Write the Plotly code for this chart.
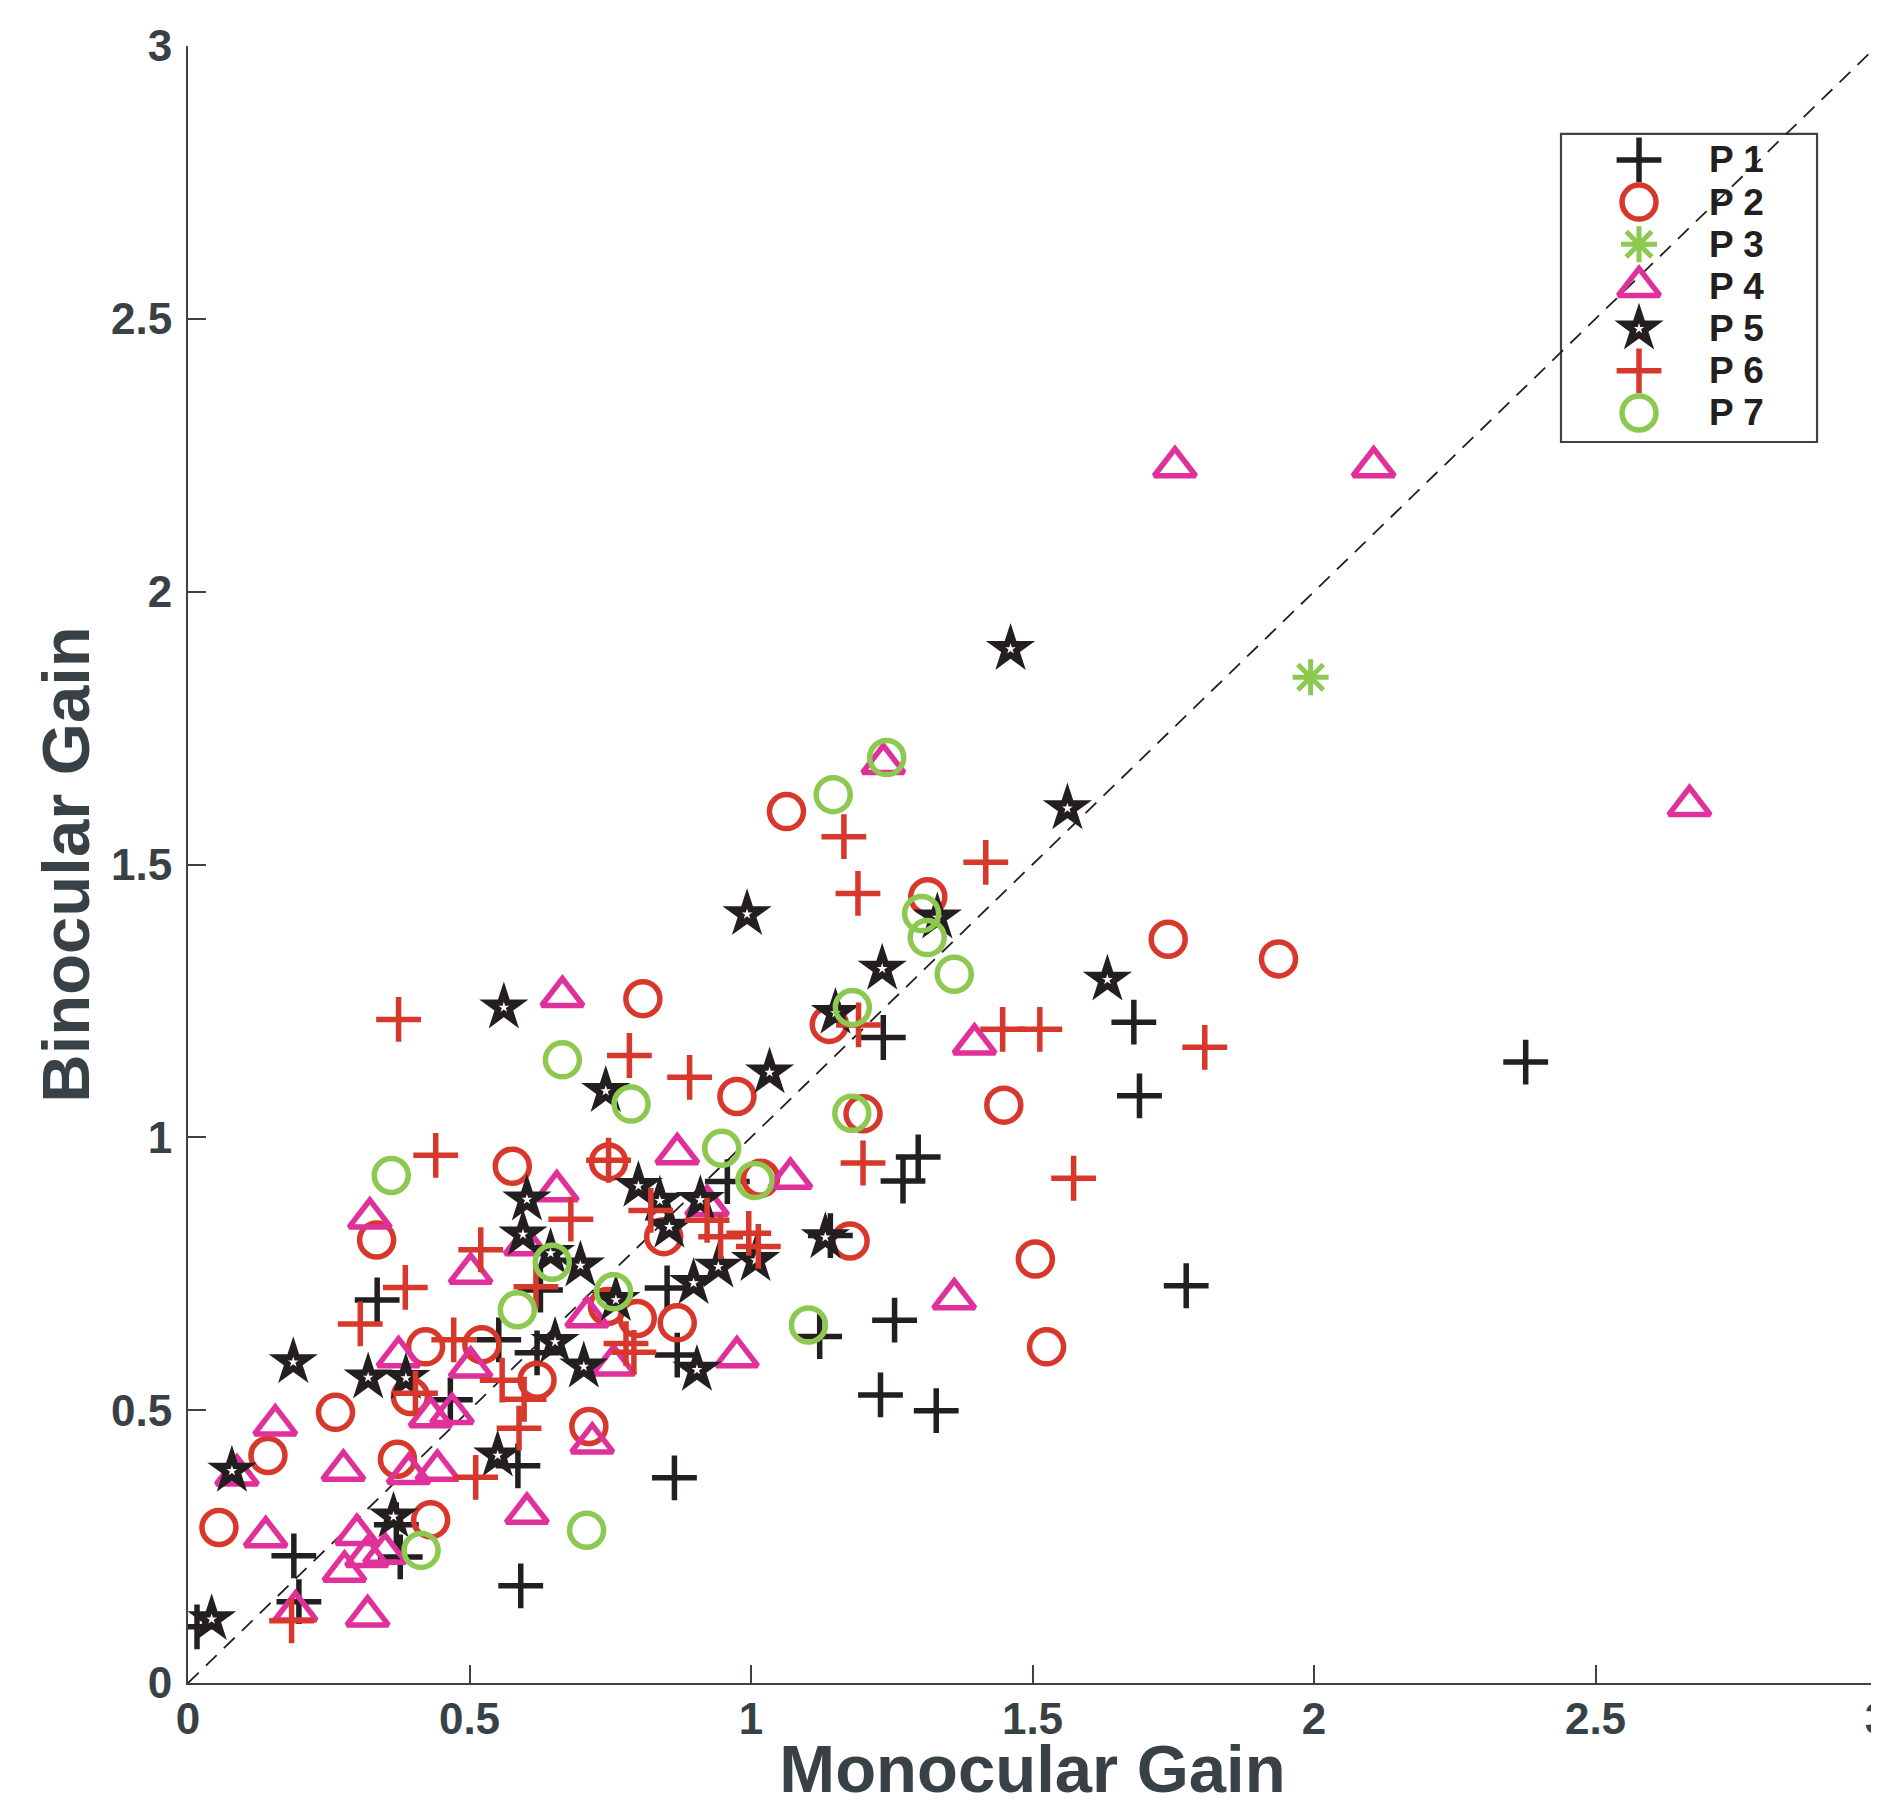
import plotly.graph_objects as go

# ---------------- data ----------------
series_names = ["P 1", "P 2", "P 3", "P 4", "P 5", "P 6", "P 7"]

p1_x = [2.376, 1.773, 1.680, 1.690, 1.297, 1.270, 1.235, 1.141, 1.255, 1.122, 1.230, 1.329,
        0.864, 0.591, 0.958, 0.851, 0.869, 0.626, 0.552, 0.620, 0.466, 0.336, 0.586, 0.188,
        0.197, 0.016, 0.377, 0.370]
p1_y = [1.138, 0.728, 1.211, 1.076, 0.964, 0.920, 1.183, 0.820, 0.665, 0.635, 0.528, 0.499,
        0.376, 0.178, 0.919, 0.724, 0.601, 0.720, 0.629, 0.605, 0.519, 0.702, 0.398, 0.233,
        0.149, 0.103, 0.231, 0.290]

p2_x = [1.063, 1.314, 1.139, 0.975, 1.199, 1.176, 1.741, 1.937, 1.449, 1.505, 1.525, 0.808,
        0.576, 0.747, 1.017, 0.845, 0.798, 0.869, 0.712, 0.620, 0.522, 0.422, 0.335, 0.395,
        0.262, 0.142, 0.055, 0.372, 0.431, 0.745]
p2_y = [1.597, 1.441, 1.207, 1.075, 1.043, 0.810, 1.363, 1.327, 1.059, 0.777, 0.616, 1.254,
        0.947, 0.955, 0.925, 0.818, 0.668, 0.660, 0.470, 0.555, 0.620, 0.616, 0.812, 0.525,
        0.496, 0.417, 0.285, 0.410, 0.299, 0.690]

p3_x = [1.994]
p3_y = [1.843]

p4_x = [1.753, 2.106, 2.667, 1.235, 1.397, 1.361, 1.070, 0.869, 0.922, 0.975, 0.665, 0.655,
        0.600, 0.502, 0.709, 0.756, 0.502, 0.718, 0.602, 0.323, 0.374, 0.155, 0.087, 0.138,
        0.276, 0.392, 0.443, 0.469, 0.431, 0.191, 0.319, 0.278, 0.300, 0.318, 0.350]
p4_y = [2.229, 2.229, 1.608, 1.685, 1.171, 0.704, 0.925, 0.970, 0.875, 0.598, 1.258, 0.902,
        0.803, 0.751, 0.671, 0.583, 0.579, 0.440, 0.311, 0.852, 0.598, 0.473, 0.381, 0.268,
        0.390, 0.384, 0.390, 0.494, 0.488, 0.132, 0.123, 0.205, 0.272, 0.232, 0.238]

p5_x = [1.461, 1.562, 1.633, 0.993, 1.331, 1.233, 1.150, 1.033, 0.561, 0.742, 0.800, 0.602,
        0.595, 0.644, 0.697, 0.838, 0.855, 0.910, 1.132, 0.898, 0.942, 1.008, 0.760, 0.652,
        0.703, 0.904, 0.187, 0.320, 0.387, 0.078, 0.550, 0.365, 0.042]
p5_y = [1.895, 1.603, 1.289, 1.409, 1.403, 1.309, 1.228, 1.119, 1.238, 1.085, 0.911, 0.886,
        0.822, 0.788, 0.765, 0.884, 0.836, 0.885, 0.817, 0.733, 0.763, 0.775, 0.702, 0.625,
        0.580, 0.574, 0.588, 0.560, 0.559, 0.389, 0.417, 0.305, 0.117]

p6_x = [1.165, 1.190, 1.417, 1.447, 1.513, 1.806, 1.573, 1.199, 1.191, 0.374, 0.440, 0.784,
        0.891, 0.747, 0.680, 0.822, 0.922, 0.946, 0.996, 1.013, 0.520, 0.618, 0.386, 0.306,
        0.472, 0.792, 0.778, 0.558, 0.597, 0.404, 0.588, 0.511, 0.184]
p6_y = [1.551, 1.447, 1.504, 1.198, 1.198, 1.165, 0.925, 0.953, 1.206, 1.216, 0.967, 1.150,
        1.110, 0.958, 0.850, 0.866, 0.848, 0.818, 0.824, 0.800, 0.794, 0.726, 0.725, 0.658,
        0.629, 0.606, 0.622, 0.555, 0.520, 0.531, 0.467, 0.377, 0.114]

p7_x = [1.241, 1.146, 1.303, 1.313, 1.361, 1.180, 1.179, 0.948, 1.007, 1.102, 0.787, 0.665,
        0.361, 0.647, 0.585, 0.756, 0.708, 0.414]
p7_y = [1.696, 1.628, 1.410, 1.366, 1.299, 1.238, 1.044, 0.980, 0.921, 0.656, 1.061, 1.142,
        0.930, 0.771, 0.684, 0.717, 0.280, 0.243]

x_ticks = [0, 0.5, 1, 1.5, 2, 2.5, 3]
y_ticks = [0, 0.5, 1, 1.5, 2, 2.5, 3]
x_title = "Monocular Gain"
y_title = "Binocular Gain"

# ---------------- styles ----------------
BLACK = "#231f20"
RED = "#d7382b"
PINK = "#e0309b"
GREEN = "#8dc851"
AXIS = "#3b4346"
LABEL = "#384145"
FONT = "Liberation Sans"

styles = [
    dict(symbol="cross-thin-open", color=BLACK, size=32, lw=5.5),
    dict(symbol="circle-open", color=RED, size=34, lw=5.5),
    dict(symbol="asterisk-open", color=GREEN, size=30, lw=5),
    dict(symbol="triangle-up-open", color=PINK, size=36, lw=5.5),
    dict(symbol="star", color=BLACK, size=37, lw=0, hole=8),
    dict(symbol="cross-thin-open", color=RED, size=32, lw=5.5),
    dict(symbol="circle-open", color=GREEN, size=34, lw=5.5),
]
data = [(p1_x, p1_y), (p2_x, p2_y), (p3_x, p3_y), (p4_x, p4_y),
        (p5_x, p5_y), (p6_x, p6_y), (p7_x, p7_y)]


def add_marks(xs, ys, st, name, **kw):
    fig.add_trace(go.Scatter(
        x=xs, y=ys, mode="markers", name=name, showlegend=False,
        marker=dict(symbol=st["symbol"], color=st["color"], size=st["size"],
                    line=dict(color=st["color"], width=st["lw"])), **kw))
    if st.get("hole"):
        # small white star in the centre, as the thick-edged pentagram of the original
        fig.add_trace(go.Scatter(
            x=xs, y=ys, mode="markers", showlegend=False, hoverinfo="skip",
            marker=dict(symbol="star", color="white", size=st["hole"], line=dict(width=0)), **kw))


fig = go.Figure()
for name, (xs, ys), st in zip(series_names, data, styles):
    add_marks(xs, ys, st, name)

# ---------------- manual legend (large glyphs like the original) ----------------
LEG_X0, LEG_X1 = 0.8129, 0.9645
LEG_Y1, LEG_Y0 = 0.9463, 0.7581
ROW0 = 0.9304
ROW_STEP = 0.02576
MARK_X = 0.8591
TEXT_X = 0.8993

for i, (name, st) in enumerate(zip(series_names, styles)):
    ry = ROW0 - i * ROW_STEP
    add_marks([MARK_X], [ry], st, name, xaxis="x2", yaxis="y2")
    fig.add_annotation(x=TEXT_X, y=ry, xref="paper", yref="paper", text="<b>" + name + "</b>",
                       showarrow=False, xanchor="left", yanchor="middle",
                       font=dict(family=FONT, size=37, color=BLACK))

fig.add_shape(type="line", x0=0, y0=0, x1=3, y1=3, xref="x", yref="y", layer="below",
              line=dict(color=BLACK, width=1.8, dash="15px,10px"))
fig.add_shape(type="rect", x0=LEG_X0, x1=LEG_X1, y0=LEG_Y0, y1=LEG_Y1, xref="paper", yref="paper",
              layer="below", fillcolor="white", line=dict(color=AXIS, width=2.2))

tickfont = dict(family=FONT, size=44, color=LABEL, weight="bold")
titlefont = dict(family=FONT, size=67, color=LABEL, weight="bold")
# the page body has an 8px margin, so the figure is 8px smaller than the window
fig.update_layout(
    width=1871, height=1798,
    margin=dict(l=180, r=2, t=38, b=123, autoexpand=False),
    paper_bgcolor="white", plot_bgcolor="white",
    showlegend=False,
    xaxis=dict(range=[0, 3], tickvals=x_ticks, ticktext=[f"{v:g}" for v in x_ticks],
               showgrid=False, zeroline=False, showline=True, linecolor=AXIS, linewidth=2,
               ticks="inside", ticklen=18, tickwidth=2, tickcolor=AXIS,
               tickfont=tickfont, ticklabeloverflow="allow", ticklabelstandoff=-4,
               title=dict(text=x_title, standoff=8, font=titlefont)),
    yaxis=dict(range=[0, 3], tickvals=y_ticks, ticktext=[f"{v:g}" for v in y_ticks],
               showgrid=False, zeroline=False, showline=True, linecolor=AXIS, linewidth=2,
               ticks="inside", ticklen=18, tickwidth=2, tickcolor=AXIS,
               tickfont=tickfont, ticklabelstandoff=5,
               title=dict(text=y_title, standoff=0, font=titlefont)),
    xaxis2=dict(range=[0, 1], domain=[0, 1], anchor="y2", overlaying="x", visible=False,
                fixedrange=True),
    yaxis2=dict(range=[0, 1], domain=[0, 1], anchor="x2", overlaying="y", visible=False,
                fixedrange=True),
)

fig.write_html("out.html")
